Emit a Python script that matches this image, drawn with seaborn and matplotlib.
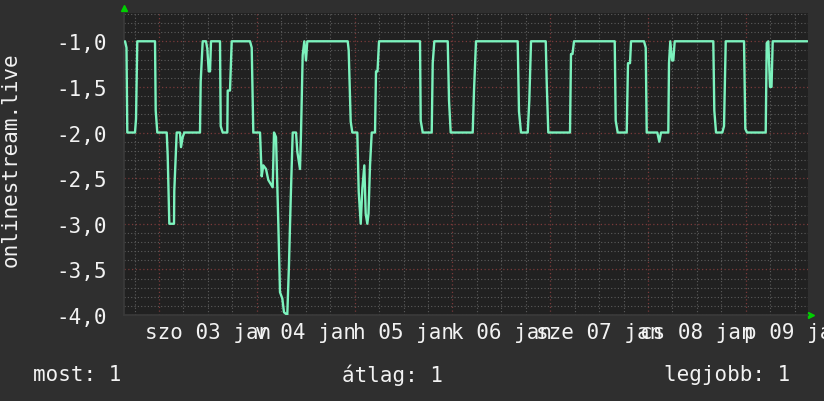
import matplotlib
matplotlib.use("Agg")
import matplotlib.pyplot as plt
import matplotlib.transforms as mtransforms
import seaborn as sns
import pandas as pd
import numpy as np

# ---- data (hours relative to Jan 3 00:00, value) ----
hours = [-8.34, -7.98, -7.78, -5.89, -5.64, -5.33, -0.98, -0.81, -0.42,
         1.89, 2.13, 2.53, 3.68, 3.75, 4.34, 5.15, 5.40, 5.82, 6.21,
         10.06, 10.23, 10.72, 11.53, 11.85, 12.20, 12.52, 12.76,
         14.97, 15.14, 15.63, 16.76, 16.86, 17.42, 17.84,
         22.33, 22.75, 23.14, 24.79, 25.20, 25.60, 26.26, 26.82, 27.90,
         28.22, 28.71, 29.28, 29.69, 30.26, 30.67, 31.48, 31.90, 32.32,
         32.81, 33.62, 33.94, 34.60, 34.85, 35.26, 35.66, 36.07, 36.39,
         46.31, 46.55, 47.04, 47.44, 48.66, 49.01, 49.50, 49.89, 50.38,
         50.72, 51.12, 51.41, 51.78, 52.20, 53.01, 53.25, 53.62, 53.99,
         64.05, 64.22, 64.71, 66.92, 67.17, 67.56,
         70.85, 71.17, 71.58, 76.98, 77.30, 77.79,
         88.02, 88.34, 88.83, 90.48, 90.87, 91.29,
         94.90, 95.14, 95.53, 100.86, 101.10, 101.47, 101.84,
         111.83, 112.07, 112.56, 114.77, 115.09, 115.58, 115.83,
         119.02, 119.44, 119.68, 122.28, 122.77, 123.19,
         124.98, 125.15, 125.47, 125.89, 126.21, 126.55,
         136.02, 136.27, 136.69, 138.23, 138.65, 139.07,
         143.56, 143.88, 144.29, 148.88, 149.13, 149.52, 149.94, 150.31,
         150.60, 159.09]
values = [-1.0, -1.07, -2.0, -2.0, -1.85, -1.0, -1.0, -1.76, -2.0,
          -2.0, -2.25, -3.0, -3.0, -2.64, -2.0, -2.0, -2.16, -2.05, -2.0,
          -2.0, -1.44, -1.0, -1.0, -1.08, -1.33, -1.33, -1.0,
          -1.0, -1.93, -2.0, -2.0, -1.54, -1.54, -1.0,
          -1.0, -1.07, -2.0, -2.0, -2.48, -2.36, -2.4, -2.52, -2.6,
          -2.0, -2.05, -3.0, -3.75, -3.82, -3.97, -4.0, -3.44, -2.73,
          -2.0, -2.0, -2.21, -2.4, -2.0, -1.15, -1.0, -1.21, -1.0,
          -1.0, -1.1, -1.88, -2.0, -2.0, -2.65, -3.0, -2.62, -2.36,
          -2.89, -3.0, -2.89, -2.36, -2.0, -2.0, -1.33, -1.33, -1.0,
          -1.0, -1.87, -2.0, -2.0, -1.24, -1.0,
          -1.0, -1.65, -2.0, -2.0, -1.54, -1.0,
          -1.0, -1.77, -2.0, -2.0, -1.65, -1.0,
          -1.0, -1.45, -2.0, -2.0, -1.14, -1.14, -1.0,
          -1.0, -1.87, -2.0, -2.0, -1.24, -1.24, -1.0,
          -1.0, -1.07, -2.0, -2.0, -2.1, -2.0,
          -2.0, -1.24, -1.0, -1.21, -1.21, -1.0,
          -1.0, -1.76, -2.0, -2.0, -1.93, -1.0,
          -1.0, -1.96, -2.0, -2.0, -1.02, -1.0, -1.5, -1.5,
          -1.0, -1.0]

day_ticks = [0, 24, 48, 72, 96, 120, 144]
label_pos = [12, 36, 60, 84, 108, 132, 156]
day_labels = ["szo 03 jan", "v 04 jan", "h 05 jan", "k 06 jan",
              "sze 07 jan", "cs 08 jan", "p 09 jan"]
y_ticks = [-4.0, -3.5, -3.0, -2.5, -2.0, -1.5, -1.0]
y_labels = ["-4,0", "-3,5", "-3,0", "-2,5", "-2,0", "-1,5", "-1,0"]
ylabel = "onlinestream.live"
legend_items = ["most: 1", "átlag: 1", "legjobb: 1"]

# ---- style ----
FIG_BG = "#2f2f2f"
AX_BG = "#212121"
LINE = "#7cf2bd"
MINOR = "#5c5c5c"
MAJOR = "#7a3a3a"
TXT = "#f2f2f2"
FONT = ["DejaVu Sans Mono"]
FS = 15

sns.set_theme(style="dark")
plt.rcParams["font.family"] = FONT

fig = plt.figure(figsize=(8.24, 4.02), dpi=100, facecolor=FIG_BG)
ax = fig.add_axes([124 / 824, 86 / 402, 684 / 824, 302 / 402])
ax.set_facecolor(AX_BG)

df = pd.DataFrame({"h": hours, "v": values})
sns.lineplot(data=df, x="h", y="v", ax=ax, color=LINE, linewidth=1.7,
             estimator=None, sort=False, zorder=5)

ax.set_xlim(-8.59, 159.26)
ax.set_ylim(-4.0, -0.69)

# grids
ax.set_xticks(day_ticks)
ax.set_xticks(np.arange(-6, 160, 6), minor=True)
ax.set_yticks(y_ticks, y_labels)
ax.set_yticks(np.arange(-4.0, -0.65, 0.1), minor=True)
ax.set_xticklabels([])
ax.grid(which="minor", color=MINOR, linestyle=(0, (1, 2)), linewidth=0.8)
ax.grid(which="major", color=MAJOR, linestyle=(0, (1, 2)), linewidth=0.9)
ax.set_axisbelow(True)

ax.tick_params(axis="x", which="major", length=3, color=MAJOR, direction="out")
ax.tick_params(axis="x", which="minor", length=2, color=MINOR, direction="out")
ax.tick_params(axis="y", which="major", length=3, color=MAJOR, direction="out",
               labelsize=FS, labelcolor=TXT, pad=9)
ax.tick_params(axis="y", which="minor", length=2, color=MINOR, direction="out")
for lab in ax.get_yticklabels():
    lab.set_family(FONT)

for s in ["top", "right"]:
    ax.spines[s].set_visible(False)
ax.spines["left"].set_color("#3a3a3a")
ax.spines["bottom"].set_color("#3a3a3a")
ax.set_xlabel("")
ax.set_ylabel(ylabel, fontsize=FS, color=TXT, family=FONT)
ax.yaxis.set_label_coords(-103 / 684, (316 - 160) / 302)

# day labels centered at noon
trans = mtransforms.blended_transform_factory(ax.transData, ax.transAxes)
for p, t in zip(label_pos, day_labels):
    ax.text(p, -7 / 302, t, transform=trans, ha="center", va="top",
            fontsize=FS, color=TXT, family=FONT, clip_on=False)

# arrows
ax.plot([0], [1.015], marker="^", color="#00d000", markersize=5,
        transform=ax.transAxes, clip_on=False)
ax.plot([1.004], [0], marker=">", color="#00d000", markersize=5,
        transform=ax.transAxes, clip_on=False)

# legend line
fig.text(33 / 824, 1 - 375 / 402, legend_items[0], ha="left", va="center",
         fontsize=FS, color=TXT, family=FONT)
fig.text(392 / 824, 1 - 375 / 402, legend_items[1], ha="center", va="center",
         fontsize=FS, color=TXT, family=FONT)
fig.text(790 / 824, 1 - 375 / 402, legend_items[2], ha="right", va="center",
         fontsize=FS, color=TXT, family=FONT)

fig.savefig("out.png", dpi=100, facecolor=FIG_BG)
